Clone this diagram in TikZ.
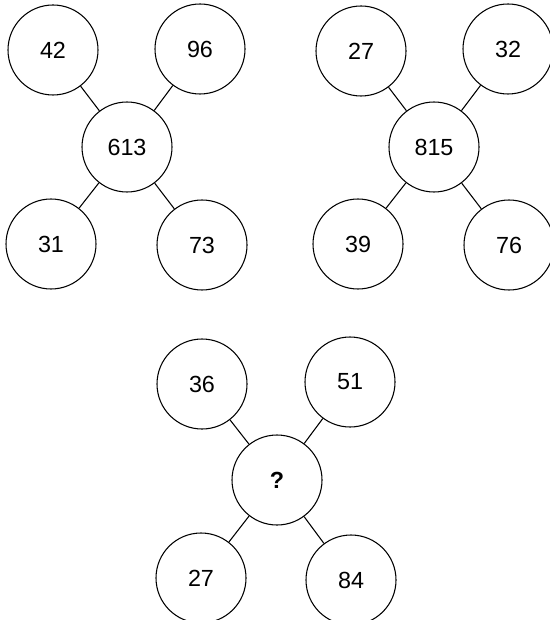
\documentclass[tikz,border=0pt]{standalone}
\usepackage{fontspec}
\setmainfont{Liberation Sans}
\begin{document}
\begin{tikzpicture}[x=0.75pt,y=-0.75pt,
  num/.style={circle,draw=black,line width=0.8pt,minimum size=67.5pt,inner sep=0pt,font=\fontsize{17.5}{20}\selectfont},
  link/.style={draw=black,line width=0.8pt}]
\useasboundingbox (0,0) rectangle (549,620);
% group 1
\node[num] (a1) at (53,50) {42};
\node[num] (a2) at (200,49) {96};
\node[num] (ac) at (127,147) {613};
\node[num] (a3) at (51,244) {31};
\node[num] (a4) at (202,245) {73};
% group 2
\node[num] (b1) at (361,51) {27};
\node[num] (b2) at (508,49) {32};
\node[num] (bc) at (434,147) {815};
\node[num] (b3) at (358,244) {39};
\node[num] (b4) at (509,245) {76};
% group 3
\node[num] (c1) at (202,384) {36};
\node[num] (c2) at (350,382) {51};
\node[num] (cc) at (277,480) {\textbf{?}};
\node[num] (c3) at (201,578) {27};
\node[num] (c4) at (351,580) {84};
\foreach \g in {a,b,c}{
  \foreach \i in {1,2,3,4}{
    \draw[link] (\g c) -- (\g\i);
  }
}
\end{tikzpicture}
\end{document}
